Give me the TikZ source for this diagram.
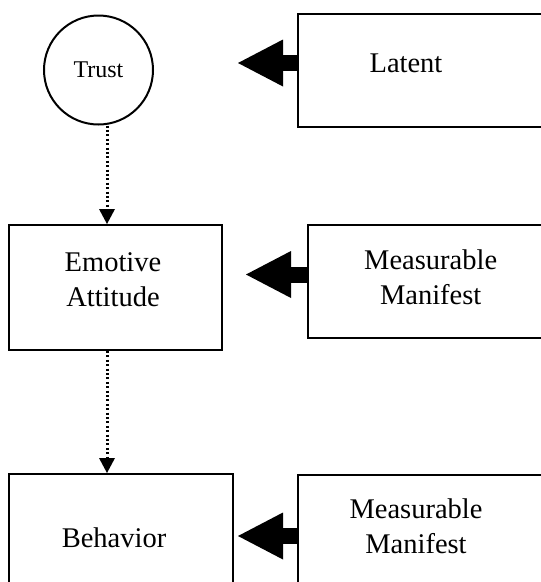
\documentclass[tikz,border=0pt]{standalone}
\usepackage{fontspec}
\setmainfont{Liberation Serif}
\usetikzlibrary{arrows.meta}
\begin{document}
\begin{tikzpicture}[x=1pt,y=-1pt,line width=2pt,
  box/.style={draw,rectangle,anchor=north west,inner sep=0pt},
  lbl/.style={font=\fontsize{28.5}{34.5}\selectfont,align=center,anchor=base},
  blockarrow/.style={line width=16pt,-{Triangle[width=47pt,length=45pt,line width=0pt]}},
  dotarrow/.style={line width=3pt,dash pattern=on 2pt off 2.4pt,-{Triangle[width=16pt,length=15pt,line width=0pt]}}]
  \useasboundingbox (0,0) rectangle (541,582);
  % left column
  \node[draw,circle,minimum size=109pt,inner sep=0pt,font=\fontsize{24}{28}\selectfont] (trust) at (98.5,70) {Trust};
  \node[box,minimum width=213pt,minimum height=125pt] (emotive) at (8,224) {};
  \node[box,minimum width=224pt,minimum height=150pt] (behavior) at (8,473) {};
  \node[lbl] (emotivetext) at (113,306) {Emotive\\Attitude};
  \node[lbl] (behaviortext) at (114,547) {Behavior};
  % right column
  \node[box,minimum width=263pt,minimum height=113pt] (latent) at (297,13) {};
  \node[box,minimum width=253pt,minimum height=113pt] (manifestA) at (307,224) {};
  \node[box,minimum width=263pt,minimum height=150pt] (manifestB) at (297,474) {};
  \node[lbl] (latenttext) at (406,72) {Latent};
  \node[lbl] (manifestAtext) at (430.7,304) {Measurable\\Manifest};
  \node[lbl] (manifestBtext) at (416,553) {Measurable\\Manifest};
  % connectors
  \coordinate (lane) at (107,0);
  \coordinate (tipA) at (238,63);
  \coordinate (tipB) at (246,274.5);
  \coordinate (tipC) at (238,536);
  \draw[dotarrow] (trust.south -| lane) -- (emotive.north -| lane);
  \draw[dotarrow] (emotive.south -| lane) -- (behavior.north -| lane);
  \draw[blockarrow] (latent.west |- tipA) -- (tipA);
  \draw[blockarrow] (manifestA.west |- tipB) -- (tipB);
  \draw[blockarrow] (manifestB.west |- tipC) -- (tipC);
\end{tikzpicture}
\end{document}
